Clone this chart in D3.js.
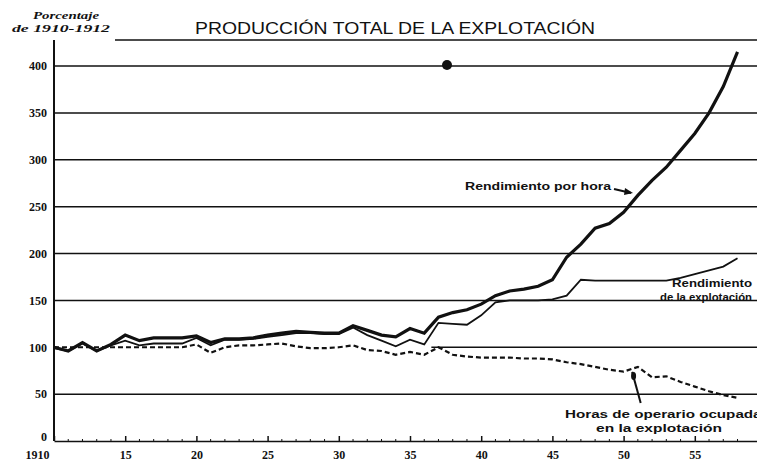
<!DOCTYPE html>
<html>
<head>
<meta charset="utf-8">
<script src="https://cdn.jsdelivr.net/npm/d3@7"></script>
<style>
  body { margin: 0; background: #fff; }
  svg { display: block; }
</style>
</head>
<body>
<div id="chart"></div>
<script>
// Years 1910-1958
const years = d3.range(1910, 1959);

// Rendimiento por hora (percentage of 1910-1912)
const porHora = [100, 96, 105, 96, 103, 113, 107, 110, 110, 110,
    112, 105, 109, 109, 110, 113, 115, 117, 116, 115,
    115, 123, 118, 113, 111, 120, 115, 132, 137, 140,
    146, 155, 160, 162, 165, 172, 196, 210, 227, 232,
    244, 262, 278, 292, 310, 328, 350, 378, 415];

// Rendimiento de la explotación
const explotacion = [99, 96, 104, 96, 102, 107, 102, 104, 104, 104,
    110, 102, 108, 108, 109, 111, 113, 115, 115, 114,
    114, 121, 113, 107, 101, 108, 103, 126, 125, 124,
    134, 148, 150, 150, 150, 151, 155, 172, 171, 171,
    171, 171, 171, 171, 174, 178, 182, 186, 195];

// Horas de operario ocupadas en la explotación
const horas = [100, 100, 100, 100, 100, 100, 100, 100, 100, 100,
    103, 94, 100, 102, 102, 103, 104, 101, 99, 99,
    100, 102, 97, 96, 92, 95, 92, 100, 92, 90,
    89, 89, 89, 88, 88, 87, 84, 82, 79, 76,
    74, 79, 68, 69, 63, 58, 53, 49, 46];

const yTicks = [0, 50, 100, 150, 200, 250, 300, 350, 400];
const xTicks = [1910, 1915, 1920, 1925, 1930, 1935, 1940, 1945, 1950, 1955, 1960];
const xTickLabels = ["1910", "15", "20", "25", "30", "35", "40", "45", "50", "55", "60"];

const width = 757, height = 464;

const svg = d3.select("#chart")
    .append("svg")
    .attr("width", width)
    .attr("height", height);

// Scales
const x = d3.scaleLinear().domain([1910, 1960]).range([54, 766]);
const y = d3.scaleLinear().domain([0, 400]).range([441, 66]);

// Horizontal gridlines (the 100 line only shows on the right part)
svg.append("g")
    .selectAll("line")
    .data(yTicks.filter(d => d > 0))
    .join("line")
    .attr("x1", d => d === 100 ? x(1936.5) : x(1910))
    .attr("x2", width)
    .attr("y1", d => y(d))
    .attr("y2", d => y(d))
    .attr("stroke", "#111")
    .attr("stroke-width", 1.5);

// Y axis
const yAxis = svg.append("g")
    .attr("transform", `translate(${x(1910)},0)`)
    .call(d3.axisLeft(y).tickValues(yTicks).tickSize(0).tickPadding(7));
yAxis.select(".domain").remove();
yAxis.selectAll("text")
    .style("font-family", "'Liberation Serif', serif")
    .style("font-weight", "bold")
    .style("font-size", "12px")
    .attr("fill", "#111");
yAxis.selectAll(".tick")
    .filter(d => d === 0)
    .select("text")
    .attr("y", -4);
svg.append("line")
    .attr("x1", x(1910)).attr("x2", x(1910))
    .attr("y1", 40).attr("y2", y(0))
    .attr("stroke", "#111")
    .attr("stroke-width", 2);

// X axis with ticks pointing up
const xAxis = svg.append("g")
    .attr("transform", `translate(0,${y(0)})`)
    .call(d3.axisBottom(x)
        .tickValues(xTicks)
        .tickFormat((d, i) => xTickLabels[i])
        .tickSizeInner(-5)
        .tickSizeOuter(0)
        .tickPadding(9));
xAxis.select(".domain")
    .attr("stroke", "#111")
    .attr("stroke-width", 1.5);
xAxis.selectAll(".tick line").attr("stroke", "#111").attr("stroke-width", 1.5);
xAxis.selectAll("text")
    .style("font-family", "'Liberation Serif', serif")
    .style("font-weight", "bold")
    .style("font-size", "12px")
    .attr("fill", "#111");
xAxis.selectAll(".tick")
    .filter(d => d === 1910)
    .select("text")
    .attr("text-anchor", "end")
    .attr("x", -5);

// Annual minor ticks
svg.append("g")
    .selectAll("line")
    .data(years.filter(d => d % 5 !== 0))
    .join("line")
    .attr("x1", d => x(d)).attr("x2", d => x(d))
    .attr("y1", y(0)).attr("y2", y(0) - 2)
    .attr("stroke", "#111");

// Lines
const line = d3.line()
    .x((d, i) => x(years[i]))
    .y(d => y(d))
    .curve(d3.curveLinear);

svg.append("path")
    .datum(horas)
    .attr("d", line)
    .attr("fill", "none")
    .attr("stroke", "#111")
    .attr("stroke-width", 2.2)
    .attr("stroke-dasharray", "5,3");

svg.append("path")
    .datum(explotacion)
    .attr("d", line)
    .attr("fill", "none")
    .attr("stroke", "#111")
    .attr("stroke-width", 1.8);

svg.append("path")
    .datum(porHora)
    .attr("d", line)
    .attr("fill", "none")
    .attr("stroke", "#111")
    .attr("stroke-width", 3.2);

// Title
svg.append("text")
    .attr("x", 195)
    .attr("y", 34)
    .attr("textLength", 400)
    .attr("lengthAdjust", "spacingAndGlyphs")
    .style("font-family", "'Liberation Sans', Arial, sans-serif")
    .style("font-size", "17px")
    .attr("fill", "#111")
    .text("PRODUCCIÓN TOTAL DE LA EXPLOTACIÓN");
svg.append("line")
    .attr("x1", 115).attr("x2", width)
    .attr("y1", 40).attr("y2", 40)
    .attr("stroke", "#111")
    .attr("stroke-width", 1.5);

// Y axis caption
const captionStyle = sel => sel
    .style("font-family", "'Liberation Serif', serif")
    .style("font-style", "italic")
    .style("font-weight", "bold")
    .style("font-size", "10.5px")
    .attr("fill", "#111")
    .attr("lengthAdjust", "spacingAndGlyphs");
svg.append("text").call(captionStyle)
    .attr("x", 33).attr("y", 19).attr("textLength", 66)
    .text("Porcentaje");
svg.append("text").call(captionStyle)
    .attr("x", 12).attr("y", 32).attr("textLength", 98)
    .text("de 1910-1912");

// Annotations
const labelFont = "'Liberation Sans', Arial, sans-serif";
function note(txt, xPos, yPos, len) {
    svg.append("text")
        .attr("x", xPos)
        .attr("y", yPos)
        .attr("textLength", len)
        .attr("lengthAdjust", "spacingAndGlyphs")
        .style("font-family", labelFont)
        .style("font-weight", "bold")
        .style("font-size", "11px")
        .attr("fill", "#111")
        .text(txt);
}
note("Rendimiento por hora", 465, 190, 146);
note("Rendimiento", 672, 287, 80);
note("de la explotación", 660, 301, 92);
note("Horas de operario ocupadas", 565, 418, 205);
note("en la explotación", 596, 432, 126);

// Arrow to "Rendimiento por hora"
svg.append("line")
    .attr("x1", 614).attr("y1", 189)
    .attr("x2", 631).attr("y2", 193)
    .attr("stroke", "#111")
    .attr("stroke-width", 2);
svg.append("path")
    .attr("d", "M633,193 L625,188 L624,195 Z")
    .attr("fill", "#111");

// Pointer to "Horas de operario"
svg.append("path")
    .attr("d", `M${x(1950.6)},${y(78) + 4} L${x(1951.2)},${y(0) - 38}`)
    .attr("stroke", "#111")
    .attr("stroke-width", 2);
svg.append("ellipse")
    .attr("cx", x(1950.7)).attr("cy", y(78) + 8)
    .attr("rx", 2.5).attr("ry", 4)
    .attr("fill", "#111");

// Ink spot on the 400 line
svg.append("circle")
    .attr("cx", 447).attr("cy", y(400) - 1)
    .attr("r", 5)
    .attr("fill", "#111");
</script>
</body>
</html>
